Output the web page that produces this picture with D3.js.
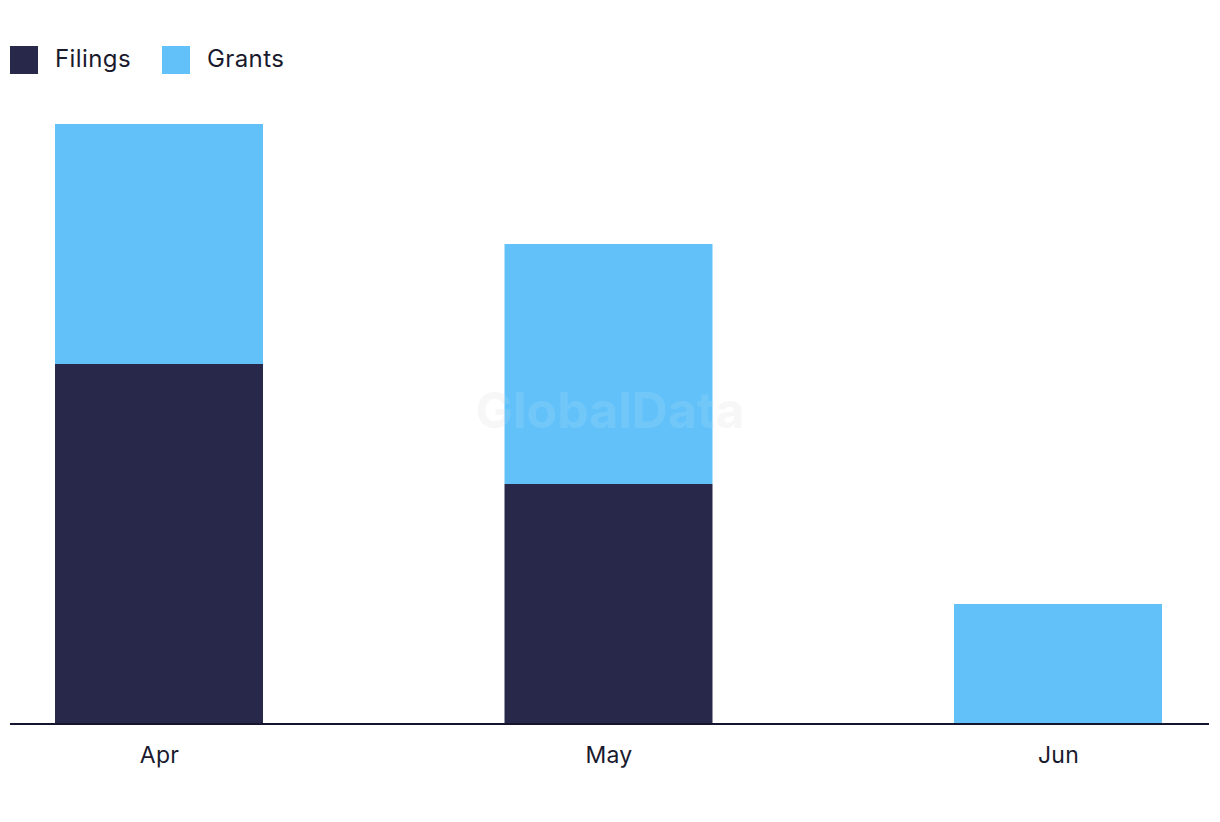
<!DOCTYPE html>
<html>
<head>
<meta charset="utf-8">
<script src="https://cdn.jsdelivr.net/npm/d3@7"></script>
<style>
  html, body { margin: 0; padding: 0; background: #ffffff; }
  svg { display: block; }
  text { font-family: Inter, "Noto Sans", sans-serif; }
</style>
</head>
<body>
<svg id="chart" width="1220" height="822"></svg>
<script>
const categories = ["Apr", "May", "Jun"];
const seriesNames = ["Filings", "Grants"];
const filings = [3, 2, 0];
const grants = [2, 2, 1];
const colors = ["#28284b", "#62c1f9"];

const svg = d3.select("#chart");
const baseY = 724;

const x = d3.scalePoint().domain(categories).range([159, 1058]);
const y = d3.scaleLinear().domain([0, 5]).range([baseY, 124]);
const barW = 208;

// watermark (behind)
svg.append("text")
  .attr("x", 610).attr("y", 428)
  .attr("text-anchor", "middle")
  .attr("font-family", "Liberation Sans, Arial, sans-serif")
  .attr("font-weight", "bold")
  .attr("font-size", 50)
  .attr("fill", "#e6e6e6")
  .attr("fill-opacity", 0.35)
  .text("GlobalData");

const rows = categories.map((c, i) => ({ cat: c, Filings: filings[i], Grants: grants[i] }));
const stacked = d3.stack().keys(seriesNames)(rows);

svg.append("g").selectAll("g")
  .data(stacked)
  .join("g")
  .attr("fill", (d, i) => colors[i])
  .selectAll("rect")
  .data(d => d.filter(s => s[1] - s[0] > 0))
  .join("rect")
  .attr("x", d => x(d.data.cat) - barW / 2)
  .attr("width", barW)
  .attr("y", d => y(d[1]))
  .attr("height", d => y(d[0]) - y(d[1]));

// watermark (over bars, faint)
svg.append("text")
  .attr("x", 610).attr("y", 428)
  .attr("text-anchor", "middle")
  .attr("font-family", "Liberation Sans, Arial, sans-serif")
  .attr("font-weight", "bold")
  .attr("font-size", 50)
  .attr("fill", "#ffffff")
  .attr("fill-opacity", 0.1)
  .text("GlobalData");

// x axis
const xAxis = d3.axisBottom(x).tickSize(0).tickPadding(23);
const gx = svg.append("g").attr("transform", `translate(0,${baseY})`).call(xAxis);
gx.select(".domain").remove();
gx.append("line")
  .attr("x1", 10).attr("x2", 1209)
  .attr("y1", 0).attr("y2", 0)
  .attr("stroke", "#151530").attr("stroke-width", 2);
gx.selectAll(".tick text")
  .attr("font-family", "Inter, 'Noto Sans', sans-serif")
  .attr("font-size", 23)
  .attr("letter-spacing", 0.3)
  .attr("fill", "#1a1a2e");

// legend
const legend = svg.append("g").attr("transform", "translate(10,46)");
const legX = [0, 152];
seriesNames.forEach((name, i) => {
  const g = legend.append("g").attr("transform", `translate(${legX[i]},0)`);
  g.append("rect").attr("width", 28).attr("height", 28).attr("fill", colors[i]);
  g.append("text").attr("x", 45).attr("y", 21)
    .attr("font-size", 24).attr("letter-spacing", 0.4)
    .attr("fill", "#1a1a2e").text(name);
});
</script>
</body>
</html>
